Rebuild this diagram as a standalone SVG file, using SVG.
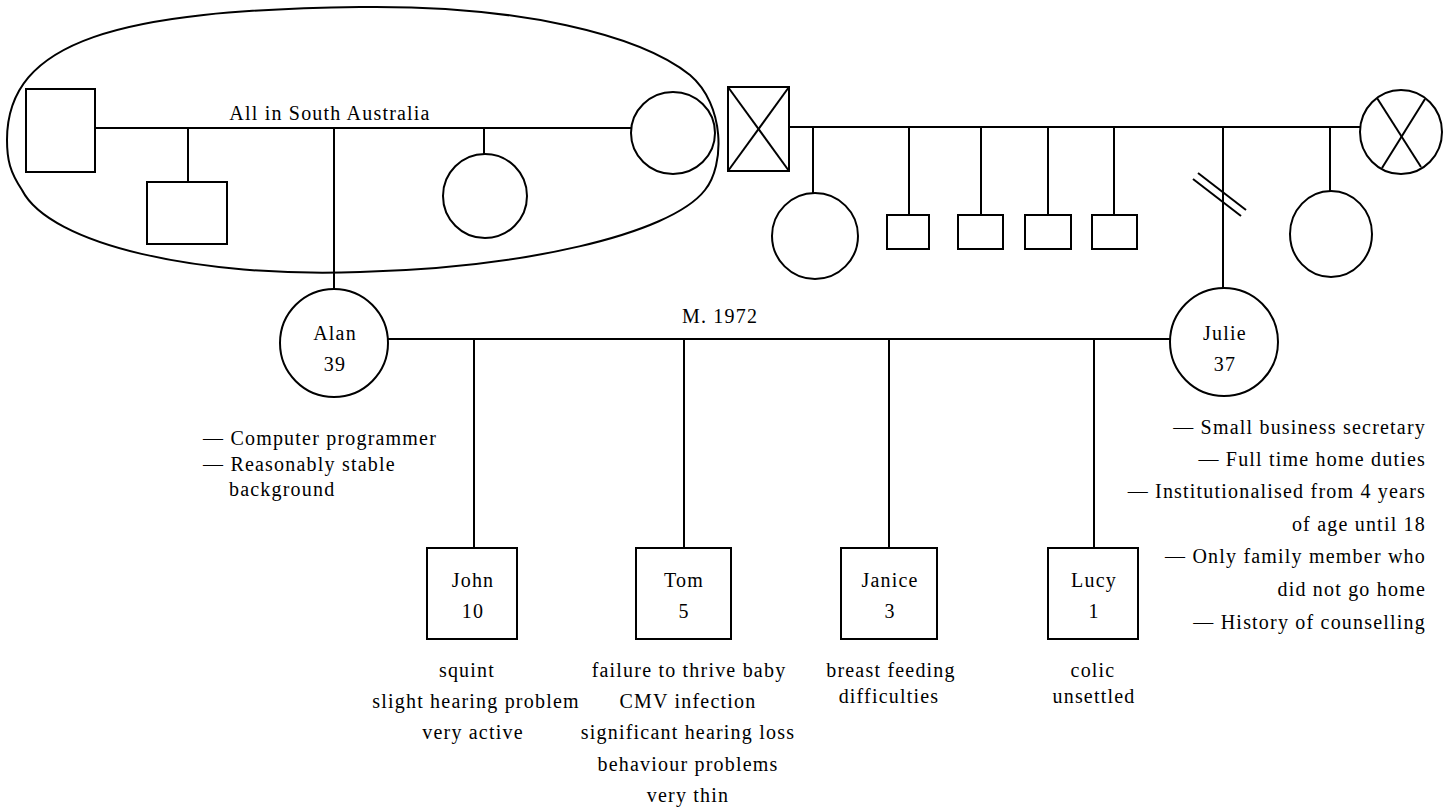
<svg xmlns="http://www.w3.org/2000/svg" width="1453" height="807" viewBox="0 0 1453 807">
<style>
.s{fill:none;stroke:#000;stroke-width:2}
.t{font-family:"Liberation Serif","Times New Roman",serif;font-size:20px;letter-spacing:1.2px;fill:#000}
.m{text-anchor:middle}
.e{text-anchor:end}
</style>
<rect width="1453" height="807" fill="#fff"/>
<g id="connectors">
<path class="s" d="M7,140 C7,40 120,10 360,7 C520,5 640,35 690,75 C725,105 725,165 705,190 C670,235 520,268 360,272 C200,278 50,245 22,190 C10,172 7,160 7,140 Z"/>
<line class="s" x1="95" y1="128" x2="631" y2="128"/>
<line class="s" x1="188" y1="128" x2="188" y2="182"/>
<line class="s" x1="334" y1="128" x2="334" y2="289"/>
<line class="s" x1="484" y1="128" x2="484" y2="154"/>
<line class="s" x1="789" y1="127" x2="1360" y2="127"/>
<line class="s" x1="813" y1="127" x2="813" y2="193"/>
<line class="s" x1="909" y1="127" x2="909" y2="215"/>
<line class="s" x1="981" y1="127" x2="981" y2="215"/>
<line class="s" x1="1048" y1="127" x2="1048" y2="215"/>
<line class="s" x1="1114" y1="127" x2="1114" y2="215"/>
<line class="s" x1="1223" y1="127" x2="1223" y2="288"/>
<line class="s" x1="1330" y1="127" x2="1330" y2="191"/>
<line class="s" x1="1193" y1="179" x2="1241" y2="216"/>
<line class="s" x1="1198" y1="173" x2="1246" y2="210"/>
<line class="s" x1="388" y1="339" x2="1171" y2="339"/>
<line class="s" x1="474" y1="339" x2="474" y2="548"/>
<line class="s" x1="684" y1="339" x2="684" y2="548"/>
<line class="s" x1="889" y1="339" x2="889" y2="548"/>
<line class="s" x1="1094" y1="339" x2="1094" y2="548"/>
<text class="t m" x="330" y="120">All in South Australia</text>
<text class="t m" x="720" y="323">M. 1972</text>
</g>
<g id="gf1"><rect class="s" x="26" y="89" width="69" height="83"/></g>
<g id="gf1son"><rect class="s" x="147" y="182" width="80" height="62"/></g>
<g id="gf1dau"><ellipse class="s" cx="485" cy="196" rx="42" ry="42"/></g>
<g id="gm1"><ellipse class="s" cx="673" cy="133" rx="42" ry="41"/></g>
<g id="gf2"><rect class="s" x="728" y="87" width="61" height="84"/><line class="s" x1="728" y1="87" x2="789" y2="171"/><line class="s" x1="789" y1="87" x2="728" y2="171"/></g>
<g id="gm2"><ellipse class="s" cx="1401" cy="132" rx="41" ry="42"/><line class="s" x1="1377" y1="98" x2="1421" y2="167"/><line class="s" x1="1425" y1="99" x2="1382" y2="168"/></g>
<g id="aunt1"><ellipse class="s" cx="815" cy="236" rx="43" ry="43"/></g>
<g id="uncle1"><rect class="s" x="887" y="215" width="42" height="34"/></g>
<g id="uncle2"><rect class="s" x="958" y="215" width="45" height="34"/></g>
<g id="uncle3"><rect class="s" x="1025" y="215" width="46" height="34"/></g>
<g id="uncle4"><rect class="s" x="1092" y="215" width="45" height="34"/></g>
<g id="aunt2"><ellipse class="s" cx="1331" cy="234" rx="41" ry="43"/></g>
<g id="alan">
<circle class="s" cx="334" cy="343" r="54"/>
<text class="t m" x="335" y="340">Alan</text>
<text class="t m" x="335" y="371">39</text>
<text class="t" x="203" y="445">— Computer programmer</text>
<text class="t" x="203" y="471">— Reasonably stable</text>
<text class="t" x="229" y="496">background</text>
</g>
<g id="julie">
<circle class="s" cx="1224" cy="342" r="54"/>
<text class="t m" x="1225" y="340">Julie</text>
<text class="t m" x="1225" y="371">37</text>
<text class="t e" x="1426" y="434">— Small business secretary</text>
<text class="t e" x="1426" y="466">— Full time home duties</text>
<text class="t e" x="1426" y="498">— Institutionalised from 4 years</text>
<text class="t e" x="1426" y="531">of age until 18</text>
<text class="t e" x="1426" y="563">— Only family member who</text>
<text class="t e" x="1426" y="596">did not go home</text>
<text class="t e" x="1426" y="629">— History of counselling</text>
</g>
<g id="john">
<rect class="s" x="427" y="548" width="90" height="91"/>
<text class="t m" x="473" y="587">John</text>
<text class="t m" x="473" y="618">10</text>
<text class="t m" x="467" y="677">squint</text>
<text class="t m" x="476" y="708">slight hearing problem</text>
<text class="t m" x="473" y="739">very active</text>
</g>
<g id="tom">
<rect class="s" x="636" y="548" width="95" height="91"/>
<text class="t m" x="684" y="587">Tom</text>
<text class="t m" x="684" y="618">5</text>
<text class="t m" x="689" y="677">failure to thrive baby</text>
<text class="t m" x="688" y="708">CMV infection</text>
<text class="t m" x="688" y="739">significant hearing loss</text>
<text class="t m" x="688" y="771">behaviour problems</text>
<text class="t m" x="688" y="802">very thin</text>
</g>
<g id="janice">
<rect class="s" x="841" y="548" width="96" height="91"/>
<text class="t m" x="890" y="587">Janice</text>
<text class="t m" x="890" y="618">3</text>
<text class="t m" x="891" y="677">breast feeding</text>
<text class="t m" x="889" y="703">difficulties</text>
</g>
<g id="lucy">
<rect class="s" x="1048" y="548" width="90" height="91"/>
<text class="t m" x="1094" y="587">Lucy</text>
<text class="t m" x="1094" y="618">1</text>
<text class="t m" x="1093" y="677">colic</text>
<text class="t m" x="1094" y="703">unsettled</text>
</g>
</svg>
